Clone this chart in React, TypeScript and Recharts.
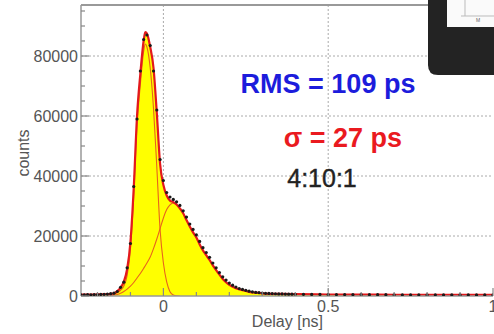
import React from 'react';
import { ComposedChart, XAxis, YAxis, Line, Area, Scatter, CartesianGrid, ReferenceLine } from 'recharts';

// ---- fit: total ----
const fitDelays = [-0.25, -0.22, -0.19, -0.17, -0.16, -0.15, -0.14, -0.13, -0.12, -0.11, -0.10, -0.09, -0.08, -0.07, -0.06, -0.055, -0.05, -0.04, -0.03, -0.02, -0.01, 0, 0.01, 0.02, 0.03, 0.04, 0.05, 0.06, 0.07, 0.08, 0.09, 0.10, 0.11, 0.12, 0.13, 0.14, 0.15, 0.16, 0.17, 0.18, 0.19, 0.20, 0.22, 0.24, 0.26, 0.28, 0.30, 0.35, 0.40, 0.50, 0.60, 0.70, 0.80, 0.90, 1.00];
const fitTotal = [450, 480, 520, 600, 700, 900, 1600, 2800, 4800, 9000, 18000, 36000, 60000, 74000, 85000, 88000, 87500, 83000, 76000, 61000, 44000, 37000, 33500, 31800, 31300, 30500, 29200, 27600, 25300, 23200, 21200, 19500, 17200, 15200, 13600, 12000, 10200, 8600, 7100, 5700, 4600, 3700, 2600, 1900, 1400, 1100, 900, 700, 600, 500, 450, 420, 400, 380, 370];

// ---- fit: narrow component ----
const narrowDelays = [-0.17, -0.16, -0.15, -0.14, -0.13, -0.12, -0.11, -0.10, -0.09, -0.08, -0.07, -0.06, -0.055, -0.05, -0.04, -0.03, -0.02, -0.01, 0, 0.01, 0.02, 0.03, 0.04, 0.05];
const narrowCounts = [100, 250, 600, 1100, 1900, 3300, 6900, 15500, 33500, 57000, 70500, 81500, 84000, 83000, 76000, 62500, 43000, 22000, 11000, 4700, 1400, 300, 50, 0];

// ---- fit: broad component ----
const broadDelays = [-0.17, -0.16, -0.15, -0.14, -0.13, -0.12, -0.11, -0.10, -0.09, -0.08, -0.07, -0.06, -0.05, -0.04, -0.03, -0.02, -0.01, 0, 0.01, 0.02, 0.03, 0.04, 0.05, 0.06, 0.08, 0.10, 0.12, 0.14, 0.16, 0.18, 0.20, 0.24, 0.28, 0.35, 0.50, 0.70, 1.00];
const broadCounts = [80, 150, 300, 500, 900, 1500, 2300, 3300, 4500, 6000, 7500, 9200, 11000, 13000, 15800, 19000, 22500, 26000, 28800, 30400, 31000, 30500, 29200, 27600, 23200, 19500, 15200, 12000, 8600, 5700, 3700, 1900, 1100, 700, 500, 420, 370];

// ---- measured histogram points ----
const dataDelays = [
  -0.25, -0.24, -0.23, -0.22, -0.21, -0.20, -0.19, -0.18, -0.17, -0.16,
  -0.15, -0.14, -0.13, -0.12, -0.11, -0.10, -0.09, -0.08, -0.07, -0.06,
  -0.05, -0.04, -0.03, -0.02, -0.01, 0, 0.01, 0.02, 0.03, 0.04,
  0.05, 0.06, 0.07, 0.08, 0.09, 0.10, 0.11, 0.12, 0.13, 0.14,
  0.15, 0.16, 0.17, 0.18, 0.19, 0.20, 0.21, 0.22, 0.23, 0.24,
  0.25, 0.26, 0.27, 0.28, 0.29, 0.30, 0.31, 0.32, 0.33, 0.34,
  0.35, 0.36, 0.37, 0.38, 0.39, 0.40,
  0.425, 0.45, 0.475, 0.5, 0.525, 0.55, 0.575, 0.6, 0.625, 0.65, 0.675, 0.7,
  0.725, 0.75, 0.775, 0.8, 0.825, 0.85, 0.875, 0.9, 0.925, 0.95, 0.975, 1.0,
];
const dataCounts = [
  420, 380, 450, 400, 500, 470, 520, 560, 650, 780,
  950, 1500, 2900, 4600, 9400, 17500, 36500, 59000, 75000, 85500,
  87000, 83500, 75000, 62000, 45500, 38500, 34500, 33000, 32200, 31400,
  30200, 28400, 26300, 24000, 22200, 20400, 18200, 16100, 14500, 12900,
  11000, 9400, 7800, 6400, 5300, 4300, 3600, 3000, 2500, 2200,
  1900, 1600, 1400, 1200, 1100, 1000, 900, 850, 800, 750,
  700, 680, 650, 620, 600, 580,
  560, 540, 520, 500, 490, 480, 470, 460, 450, 440, 430, 420,
  415, 410, 405, 400, 395, 390, 385, 380, 378, 375, 372, 370,
];

// ---- axes ----
const yTicks = [0, 5000, 10000, 15000, 20000, 25000, 30000, 35000, 40000, 45000, 50000, 55000, 60000, 65000, 70000, 75000, 80000, 85000, 90000, 95000];
const yLabels = [0, 20000, 40000, 60000, 80000];
const xTicks = [-0.2, -0.1, 0, 0.1, 0.2, 0.3, 0.4, 0.5, 0.6, 0.7, 0.8, 0.9, 1.0];
const xLabels = [0, 0.5, 1];
const gridY = [20000, 40000, 60000, 80000];
const gridX = [0, 0.5];

const zip = (xs: number[], ys: number[]) => xs.map((x, i) => ({ x, y: ys[i] }));
const totalData = zip(fitDelays, fitTotal);
const narrowData = zip(narrowDelays, narrowCounts);
const broadData = zip(broadDelays, broadCounts);
const pointData = zip(dataDelays, dataCounts);

const FONT = '"Liberation Sans", Arial, Helvetica, sans-serif';
const near = (list: number[], v: number) => list.some((l) => Math.abs(l - v) < 1e-9);

const YTick = (props: any) => {
  const { x, y, payload } = props;
  const v = payload.value;
  const major = near(yLabels, v);
  return (
    <g>
      <line x1={x} x2={x + (major ? 8 : 4)} y1={y} y2={y} stroke="#888" strokeWidth={1.2} />
      {major && (
        <text x={x - 3} y={y} dy={5.5} textAnchor="end" fontSize={16} fill="#555" fontFamily={FONT}>
          {v}
        </text>
      )}
    </g>
  );
};

const XTick = (props: any) => {
  const { x, y, payload } = props;
  const v = payload.value;
  const major = near(xLabels, v);
  return (
    <g>
      <line x1={x} x2={x} y1={y} y2={y - (major ? 8 : 4)} stroke="#888" strokeWidth={1.2} />
      {major && (
        <text x={x} y={y} dy={16} textAnchor="middle" fontSize={16} fill="#555" fontFamily={FONT}>
          {v}
        </text>
      )}
    </g>
  );
};

const Dot = (props: any) => {
  const { cx, cy } = props;
  return <circle cx={cx} cy={cy} r={1.6} fill="#1a1a1a" />;
};

export default function App() {
  return (
    <div style={{ position: 'absolute', left: 0, top: 0, width: 494, height: 334, background: '#fff', overflow: 'hidden' }}>
      <ComposedChart width={494} height={334} margin={{ top: 5, right: 1, bottom: 18, left: 21 }}>
        <CartesianGrid
          horizontal={true}
          vertical={true}
          horizontalValues={gridY}
          verticalValues={gridX}
          stroke="#aaa"
          strokeDasharray="2 2"
        />
        <XAxis
          dataKey="x"
          type="number"
          domain={[-0.25, 1.0]}
          ticks={xTicks}
          interval={0}
          allowDataOverflow
          height={20}
          tickSize={0}
          tickMargin={0}
          tickLine={false}
          tick={<XTick />}
          axisLine={{ stroke: '#999', strokeWidth: 1.5 }}
        />
        <YAxis
          type="number"
          domain={[0, 97000]}
          ticks={yTicks}
          interval={0}
          allowDataOverflow
          width={60}
          tickSize={0}
          tickMargin={0}
          tickLine={false}
          tick={<YTick />}
          axisLine={{ stroke: '#999', strokeWidth: 1.5 }}
        />
        <ReferenceLine y={97000} stroke="#999" strokeWidth={2} ifOverflow="visible" />
        <Area
          data={totalData}
          dataKey="y"
          type="monotone"
          fill="#ffff00"
          fillOpacity={1}
          stroke="none"
          isAnimationActive={false}
        />
        <Scatter data={pointData} dataKey="y" shape={<Dot />} isAnimationActive={false} />
        <Line data={narrowData} dataKey="y" type="monotone" stroke="#e8641c" strokeWidth={1.1} dot={false} isAnimationActive={false} />
        <Line data={broadData} dataKey="y" type="monotone" stroke="#e8641c" strokeWidth={1.1} dot={false} isAnimationActive={false} />
        <Line data={totalData} dataKey="y" type="monotone" stroke="#e3191c" strokeWidth={2.2} dot={false} isAnimationActive={false} />
      </ComposedChart>
      <svg width={494} height={334} style={{ position: 'absolute', left: 0, top: 0, pointerEvents: 'none' }}>
        <text x={328} y={93} textAnchor="middle" fontSize={27} fontWeight="bold" fill="#1c1cdc" fontFamily={FONT}>
          RMS = 109 ps
        </text>
        <text x={343} y={147} textAnchor="middle" fontSize={27} fontWeight="bold" fill="#ea1a1f" fontFamily={FONT}>
          σ = 27 ps
        </text>
        <text x={322} y={187} textAnchor="middle" fontSize={25} fill="#222" fontFamily={FONT} stroke="#222" strokeWidth={0.4}>
          4:10:1
        </text>
        <text x={323} y={327} textAnchor="end" fontSize={16} fill="#555" fontFamily={FONT}>
          Delay [ns]
        </text>
        <text x={29} y={153} textAnchor="middle" fontSize={16} fill="#555" fontFamily={FONT} transform="rotate(-90 29 153)">
          counts
        </text>
        <path d="M428,0 H494 V75 H438 Q428,75 428,65 Z" fill="#232323" />
        <rect x={447} y={0} width={47} height={27} fill="#fafafa" />
        <line x1={465} x2={465} y1={0} y2={16} stroke="#bbb" strokeWidth={1} />
        <line x1={461} x2={494} y1={16} y2={16} stroke="#bbb" strokeWidth={1} />
        <text x={476} y={22} fontSize={5} fill="#666" fontFamily={FONT}>M</text>
      </svg>
    </div>
  );
}
